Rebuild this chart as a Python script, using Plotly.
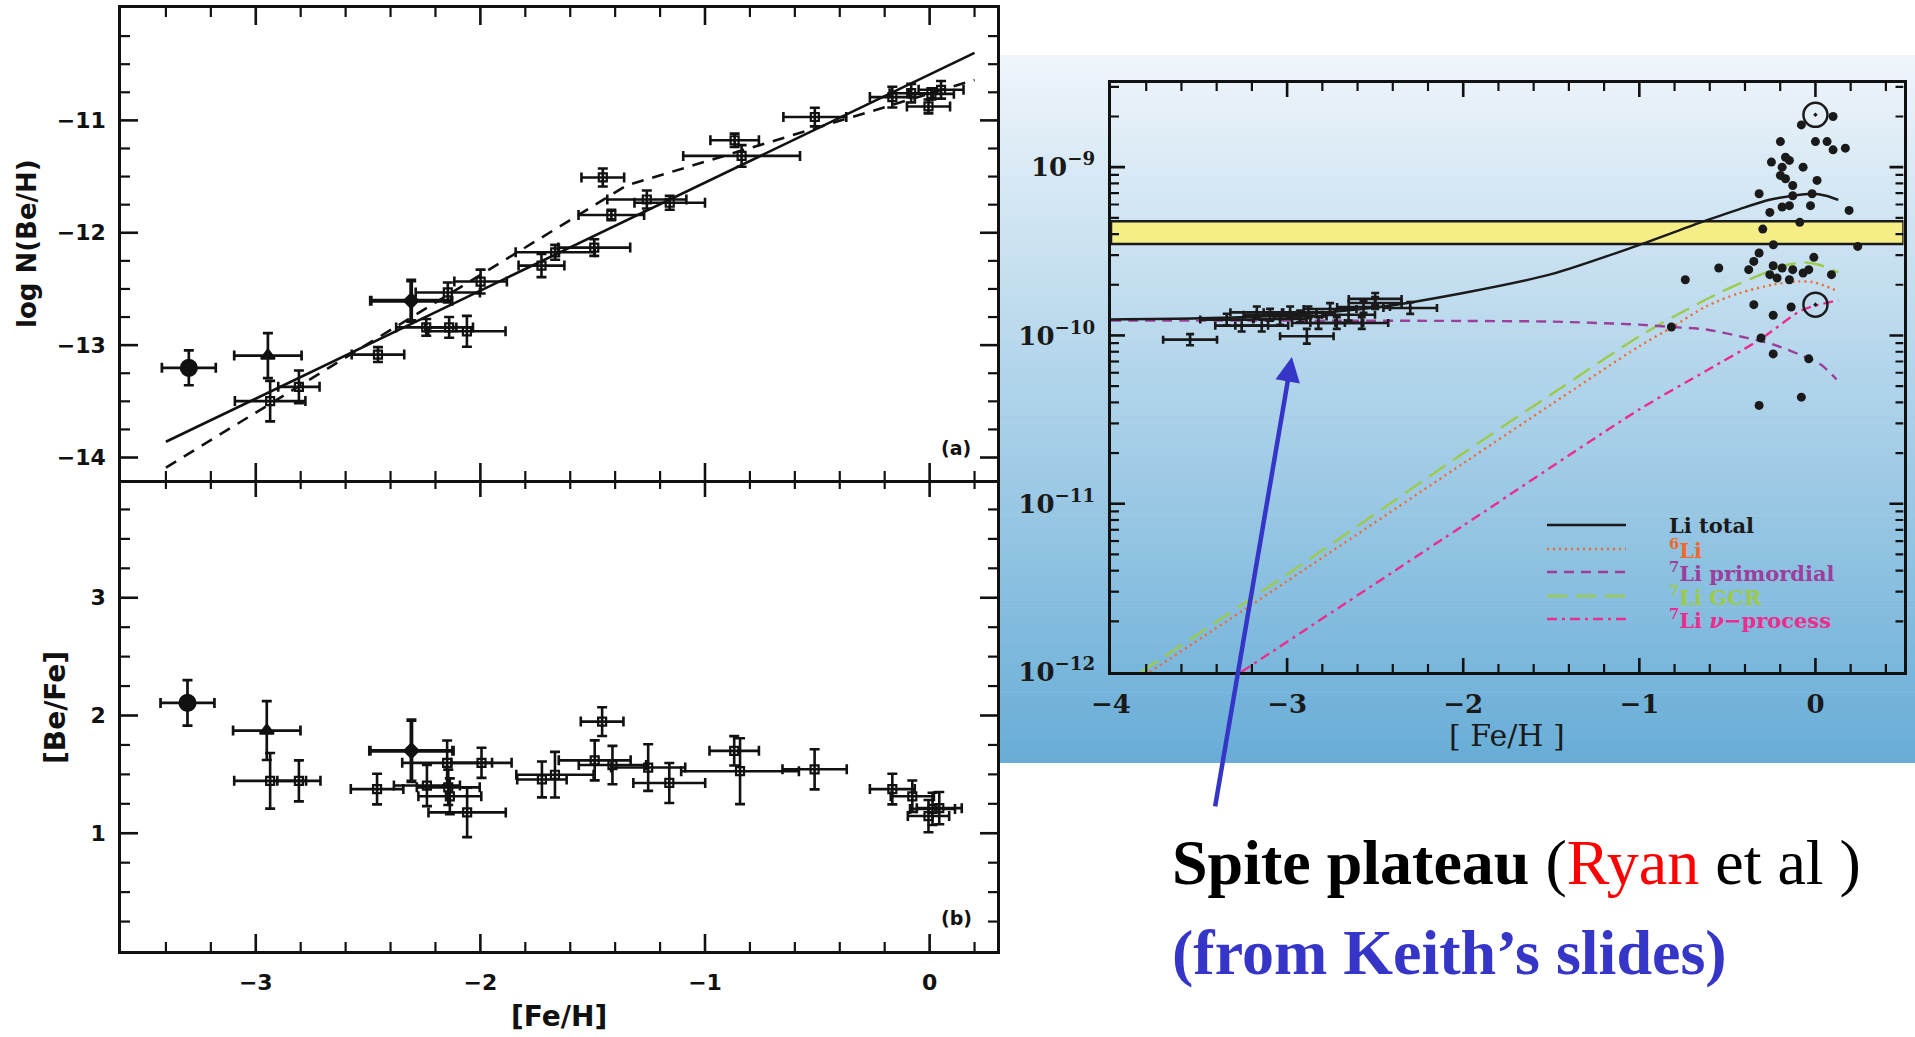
import numpy as np
import plotly.graph_objects as go

W, H = 1915, 1037


def px(x):
    return x / W


def py(y):
    return 1 - y / H


# ---------------- Panel (a): log N(Be/H) vs [Fe/H] ----------------
a_sq_feh = [-2.936, -2.808, -2.456, -2.241, -2.145, -2.139, -2.060, -1.999, -1.728, -1.667, -1.493, -1.455,
            -1.417, -1.259, -1.157, -0.868, -0.837, -0.511, -0.166, -0.082, -0.005, 0.008, 0.051]
a_sq_be = [-13.498, -13.371, -13.084, -12.842, -12.531, -12.842, -12.877, -12.434, -12.292, -12.174, -12.132,
           -11.508, -11.842, -11.704, -11.733, -11.177, -11.316, -10.970, -10.793, -10.758, -10.876, -10.764, -10.728]
a_sq_xerr = [0.157, 0.092, 0.117, 0.134, 0.143, 0.106, 0.172, 0.117, 0.102, 0.176, 0.160, 0.095,
             0.146, 0.176, 0.157, 0.108, 0.260, 0.140, 0.100, 0.096, 0.096, 0.100, 0.100]
a_sq_yerr = [0.180, 0.145, 0.066, 0.074, 0.089, 0.092, 0.137, 0.106, 0.103, 0.066, 0.074, 0.080,
             0.047, 0.080, 0.062, 0.059, 0.096, 0.083, 0.092, 0.083, 0.062, 0.050, 0.078]

a_circ = dict(feh=[-3.298], val=[-13.202], xerr=[0.12], yerr=[0.155])
a_tri = dict(feh=[-2.946], val=[-13.093], xerr=[0.15], yerr=[0.20])
a_bold = dict(feh=[-2.308], val=[-12.605], xerr=[0.18], yerr=[0.18])

fit_solid_feh = [-3.40, 0.20]
fit_solid_be = [-13.86, -10.40]
fit_dash_feh = [-3.40, -1.35, 0.20]
fit_dash_be = [-14.09, -11.58, -10.64]

# ---------------- Panel (b): [Be/Fe] vs [Fe/H] ----------------
b_sq_feh = [-2.936, -2.808, -2.460, -2.238, -2.148, -2.143, -2.136, -2.059, -1.995, -1.726, -1.668, -1.491,
            -1.458, -1.412, -1.253, -1.159, -0.870, -0.844, -0.512, -0.166, -0.077, -0.005, 0.013, 0.043]
b_sq_befe = [1.445, 1.445, 1.375, 1.405, 1.598, 1.390, 1.314, 1.177, 1.598, 1.457, 1.497, 1.619,
             1.948, 1.579, 1.558, 1.427, 1.700, 1.527, 1.543, 1.375, 1.314, 1.146, 1.207, 1.213]
b_sq_xerr = [0.160, 0.096, 0.117, 0.147, 0.200, 0.140, 0.140, 0.172, 0.134, 0.110, 0.172, 0.160,
             0.095, 0.150, 0.165, 0.160, 0.110, 0.262, 0.143, 0.100, 0.096, 0.092, 0.100, 0.100]
b_sq_yerr = [0.236, 0.174, 0.130, 0.175, 0.190, 0.150, 0.152, 0.210, 0.128, 0.152, 0.194, 0.170,
             0.122, 0.163, 0.198, 0.170, 0.125, 0.280, 0.170, 0.130, 0.134, 0.137, 0.137, 0.137]

b_circ = dict(feh=[-3.304], val=[2.107], xerr=[0.12], yerr=[0.193])
b_tri = dict(feh=[-2.951], val=[1.872], xerr=[0.15], yerr=[0.25])
b_bold = dict(feh=[-2.307], val=[1.700], xerr=[0.185], yerr=[0.26])

# ---------------- Right panel: Li/H vs [Fe/H] (log10 abundances) ----------------
tot_feh = [-4.0, -3.5, -3.0, -2.5, -2.0, -1.5, -1.0, -0.62, -0.43, -0.26, -0.13, -0.02, 0.06, 0.13]
tot_log = [-9.905, -9.898, -9.880, -9.835, -9.748, -9.636, -9.462, -9.317, -9.249, -9.194, -9.170, -9.158,
           -9.170, -9.195]

prim_feh = [-4.0, -3.0, -2.0, -1.5, -1.0, -0.82, -0.62, -0.43, -0.24, -0.09, 0.03, 0.12]
prim_log = [-9.912, -9.912, -9.914, -9.918, -9.936, -9.950, -9.965, -10.005, -10.054, -10.114, -10.173, -10.262]

gcr_feh = [-3.83, -3.0, -2.0, -1.5, -1.0, -0.79, -0.54, -0.37, -0.20, -0.07, 0.02, 0.13]
gcr_log = [-12.0, -11.42, -10.70, -10.35, -10.005, -9.88, -9.744, -9.665, -9.593, -9.566, -9.580, -9.625]

li6_feh = [-3.78, -3.0, -2.0, -1.5, -1.0, -0.82, -0.62, -0.43, -0.24, -0.10, -0.01, 0.13]
li6_log = [-12.0, -11.46, -10.76, -10.41, -10.064, -9.955, -9.827, -9.748, -9.698, -9.679, -9.684, -9.738]

nu_feh = [-3.26, -2.0, -1.0, -0.62, -0.31, -0.09, 0.0, 0.13]
nu_log = [-12.0, -11.13, -10.44, -10.21, -10.021, -9.857, -9.823, -9.791]

band_log = [-9.457, -9.321]  # lower / upper edge of the shaded band

halo_feh = [-3.551, -2.888, -3.172, -3.144, -3.258, -2.983, -2.879, -2.822, -2.718, -2.756,
            -2.576, -2.500, -2.566, -2.301, -3.040, -2.651, -2.926, -3.343, -3.097, -2.500]
halo_log = [-10.025, -10.005, -9.863, -9.942, -9.942, -9.863, -9.863, -9.926, -9.926, -9.843,
            -9.926, -9.783, -9.831, -9.837, -9.902, -9.877, -9.887, -9.906, -9.877, -9.807]
halo_xerr = [0.153, 0.152, 0.15, 0.15, 0.15, 0.15, 0.15, 0.15, 0.15, 0.15,
             0.15, 0.15, 0.15, 0.152, 0.15, 0.15, 0.15, 0.15, 0.15, 0.15]
halo_yerr = [0.033, 0.044, 0.035, 0.035, 0.035, 0.035, 0.035, 0.035, 0.035, 0.035,
             0.035, 0.035, 0.035, 0.035, 0.035, 0.035, 0.035, 0.035, 0.035, 0.035]

disk_feh = [0.10, -0.08, -0.199, 0.0, 0.066, 0.10, 0.17, -0.25, -0.17, -0.148, -0.189, -0.07, -0.199, -0.17,
            0.009, -0.129, -0.32, -0.129, -0.019, -0.189, -0.148, -0.028, -0.259, 0.191, -0.089, -0.299,
            -0.239, 0.24, -0.32, -0.35, -0.009, -0.549, -0.379, -0.24, -0.189, -0.129, -0.038, -0.07,
            -0.259, -0.218, -0.148, 0.091, -0.739, -0.35, -0.138, -0.24, -0.818, -0.309, -0.24, -0.038,
            -0.08, -0.32]
disk_log = [-8.699, -8.749, -8.848, -8.848, -8.848, -8.897, -8.887, -8.970, -8.941, -8.960, -9.000, -9.000,
            -9.049, -9.069, -9.079, -9.109, -9.158, -9.170, -9.158, -9.237, -9.229, -9.229, -9.269, -9.257,
            -9.328, -9.368, -9.461, -9.471, -9.510, -9.560, -9.536, -9.599, -9.609, -9.586, -9.599, -9.609,
            -9.609, -9.629, -9.639, -9.659, -9.669, -9.639, -9.669, -9.817, -9.831, -9.880, -9.950, -10.015,
            -10.110, -10.139, -10.367, -10.416]

sun_feh = [0.0, 0.0]
sun_log = [-8.689, -9.817]

INK = "#111111"
C_6LI = "#f2692e"
C_PRIM = "#9b3f9b"
C_GCR = "#9ccb4c"
C_NU = "#ec2d8e"
ARROW_BLUE = "#3535c8"


def lin(v):
    return np.power(10.0, np.asarray(v, dtype=float))


fig = go.Figure()


def err_points(xs, ys, xe, ye, xa, ya, symbol, size, thick, lw=2.2):
    fig.add_trace(go.Scatter(
        x=xs, y=ys, xaxis=xa, yaxis=ya, mode="markers",
        marker=dict(symbol=symbol, size=size, color=INK, line=dict(color=INK, width=lw)),
        error_x=dict(type="data", array=xe, thickness=thick, width=5, color=INK),
        error_y=dict(type="data", array=ye, thickness=thick, width=5, color=INK),
        showlegend=False, hoverinfo="skip"))


# panel (a)
fig.add_trace(go.Scatter(x=fit_solid_feh, y=fit_solid_be, xaxis="x", yaxis="y", mode="lines",
                         line=dict(color=INK, width=2.6), showlegend=False, hoverinfo="skip"))
fig.add_trace(go.Scatter(x=fit_dash_feh, y=fit_dash_be, xaxis="x", yaxis="y", mode="lines",
                         line=dict(color=INK, width=2.6, dash="12px,9px"), showlegend=False, hoverinfo="skip"))
err_points(a_sq_feh, a_sq_be, a_sq_xerr, a_sq_yerr, "x", "y", "square-open", 8, 2.6)
err_points(a_circ["feh"], a_circ["val"], a_circ["xerr"], a_circ["yerr"], "x", "y", "circle", 16, 2.7)
err_points(a_tri["feh"], a_tri["val"], a_tri["xerr"], a_tri["yerr"], "x", "y", "triangle-up", 12, 2.7)
err_points(a_bold["feh"], a_bold["val"], a_bold["xerr"], a_bold["yerr"], "x", "y", "diamond", 11, 3.8)

# panel (b)
err_points(b_sq_feh, b_sq_befe, b_sq_xerr, b_sq_yerr, "x2", "y2", "square-open", 8, 2.6)
err_points(b_circ["feh"], b_circ["val"], b_circ["xerr"], b_circ["yerr"], "x2", "y2", "circle", 16, 2.7)
err_points(b_tri["feh"], b_tri["val"], b_tri["xerr"], b_tri["yerr"], "x2", "y2", "triangle-up", 12, 2.7)
err_points(b_bold["feh"], b_bold["val"], b_bold["xerr"], b_bold["yerr"], "x2", "y2", "diamond", 11, 3.8)

# right panel: shaded band
bl, bh = lin(band_log)
fig.add_trace(go.Scatter(x=[-4.0, 0.5, 0.5, -4.0, -4.0], y=[bl, bl, bh, bh, bl], xaxis="x3", yaxis="y3",
                         mode="lines", fill="toself", fillcolor="#f5ee86",
                         line=dict(color="#1a1a1a", width=2.5), showlegend=False, hoverinfo="skip"))

# model curves
curve_specs = [
    (gcr_feh, gcr_log, C_GCR, "20px,9px"),
    (li6_feh, li6_log, C_6LI, "2px,4px"),
    (nu_feh, nu_log, C_NU, "10px,5px,3px,5px"),
    (prim_feh, prim_log, C_PRIM, "10px,7px"),
    (tot_feh, tot_log, "#1a1a1a", "solid"),
]
for xs, ys, col, dash in curve_specs:
    fig.add_trace(go.Scatter(x=xs, y=lin(ys), xaxis="x3", yaxis="y3", mode="lines",
                             line=dict(color=col, width=2.4, dash=dash, shape="spline", smoothing=0.8),
                             showlegend=False, hoverinfo="skip"))

# halo stars with error bars
hy = lin(halo_log)
fig.add_trace(go.Scatter(
    x=halo_feh, y=hy, xaxis="x3", yaxis="y3", mode="markers",
    marker=dict(symbol="circle", size=4, color="#1a1a1a"),
    error_x=dict(type="data", array=halo_xerr, thickness=2.6, width=4, color="#1a1a1a"),
    error_y=dict(type="data", symmetric=False,
                 array=lin(np.add(halo_log, halo_yerr)) - hy,
                 arrayminus=hy - lin(np.subtract(halo_log, halo_yerr)),
                 thickness=2.6, width=4, color="#1a1a1a"),
    showlegend=False, hoverinfo="skip"))

# disk stars and solar-system values
fig.add_trace(go.Scatter(x=disk_feh, y=lin(disk_log), xaxis="x3", yaxis="y3", mode="markers",
                         marker=dict(symbol="circle", size=9, color="#1a1a1a"),
                         showlegend=False, hoverinfo="skip"))
fig.add_trace(go.Scatter(x=sun_feh, y=lin(sun_log), xaxis="x3", yaxis="y3", mode="markers",
                         marker=dict(symbol="circle-open-dot", size=24, color="#1a1a1a",
                                     line=dict(width=2.5, color="#1a1a1a")),
                         showlegend=False, hoverinfo="skip"))

# ---------------- axes (frames + tick labels) ----------------
L_FONT = dict(family="DejaVu Sans", size=22, color=INK, weight="bold")
R_FONT = dict(family="DejaVu Serif", size=26, color="#1a1a1a", weight="bold")


def axis(domain, anchor, rng, tickvals, ticktext, font, standoff, show_labels=True, log=False, mirror=True):
    d = dict(domain=domain, anchor=anchor, range=rng, tickmode="array", tickvals=tickvals,
             ticktext=ticktext, showticklabels=show_labels, ticks="",
             mirror=mirror, showline=True, linewidth=2.5, linecolor=INK,
             showgrid=False, zeroline=False, tickfont=font, automargin=False, ticklabelstandoff=standoff)
    if log:
        d["type"] = "log"
    return d


feh_ticks = [-3, -2, -1, 0]
feh_text = ["−3", "−2", "−1", "0"]
be_ticks = [-14, -13, -12, -11]
be_text = ["−14", "−13", "−12", "−11"]
befe_ticks = [1, 2, 3]
befe_text = ["1", "2", "3"]
li_feh_ticks = [-4, -3, -2, -1, 0]
li_feh_text = ["−4", "−3", "−2", "−1", "0"]
li_ticks = [1e-12, 1e-11, 1e-10, 1e-9]
li_text = ["10<sup>−12</sup>", "10<sup>−11</sup>", "10<sup>−10</sup>", "10<sup>−9</sup>"]

# pixel boxes of the three frames: (left, right, top, bottom)
BOX_A = (121, 997, 8, 480)
BOX_B = (121, 997, 480, 951)
BOX_C = (1111, 1903.5, 83, 672)
RANGE_FEH = [-3.6, 0.3]
RANGE_BE = [-14.2, -10.0]
RANGE_BEFE = [0.0, 4.0]
RANGE_LI_FEH = [-4.0, 0.5]
RANGE_LI_LOG = [-12.0, -8.5]


def xdom(b):
    return [px(b[0]), px(b[1])]


def ydom(b):
    return [py(b[3]), py(b[2])]


fig.update_layout(
    xaxis=axis(xdom(BOX_A), "y", RANGE_FEH, feh_ticks, feh_text, L_FONT, 8, show_labels=False),
    yaxis=axis(ydom(BOX_A), "x", RANGE_BE, be_ticks, be_text, L_FONT, 8),
    xaxis2=axis(xdom(BOX_B), "y2", RANGE_FEH, feh_ticks, feh_text, L_FONT, 10, mirror=False),
    yaxis2=axis(ydom(BOX_B), "x2", RANGE_BEFE, befe_ticks, befe_text, L_FONT, 8),
    xaxis3=axis(xdom(BOX_C), "y3", RANGE_LI_FEH, li_feh_ticks, li_feh_text, R_FONT, 7),
    yaxis3=axis(ydom(BOX_C), "x3", RANGE_LI_LOG, li_ticks, li_text, R_FONT, 8, log=True),
)


# ---------------- tick marks on all four sides of each frame ----------------
def tick_marks(xa, ya, xr, yr, box, xvals, yvals, length, width, ylog=False):
    wpx, hpx = box[1] - box[0], box[3] - box[2]
    dy = length / hpx * (yr[1] - yr[0])
    dx = length / wpx * (xr[1] - xr[0])
    xs, ys = [], []
    for v in xvals:
        xs += [v, v, None, v, v, None]
        ys += [yr[0], yr[0] + dy, None, yr[1], yr[1] - dy, None]
    for v in yvals:
        xs += [xr[0], xr[0] + dx, None, xr[1], xr[1] - dx, None]
        ys += [v, v, None, v, v, None]
    if ylog:
        ys = [None if y is None else 10.0 ** y for y in ys]
    fig.add_trace(go.Scatter(x=xs, y=ys, xaxis=xa, yaxis=ya, mode="lines",
                             line=dict(color=INK, width=width), showlegend=False, hoverinfo="skip"))


def steps(lo, hi, step):
    n = int(round((hi - lo) / step))
    return [round(lo + step * i, 4) for i in range(n + 1)]


def off_major(vals):
    return [v for v in vals if abs(v - round(v)) > 1e-6]


feh_minor = off_major(steps(-3.4, 0.2, 0.2))
be_minor = off_major(steps(-14.0, -10.25, 0.25))
befe_minor = off_major(steps(0.25, 3.75, 0.25))
li_feh_minor = off_major(steps(-3.8, 0.4, 0.2))
li_minor = [np.log10(k) + e for e in (-12, -11, -10, -9) for k in range(2, 10) if np.log10(k) + e < -8.5]

for xa, ya, yr, box, ymaj, ymin in (("x", "y", RANGE_BE, BOX_A, be_ticks, be_minor),
                                    ("x2", "y2", RANGE_BEFE, BOX_B, befe_ticks, befe_minor)):
    tick_marks(xa, ya, RANGE_FEH, yr, box, feh_ticks, ymaj, 17, 2.6)
    tick_marks(xa, ya, RANGE_FEH, yr, box, feh_minor, ymin, 9, 2.2)

tick_marks("x3", "y3", RANGE_LI_FEH, RANGE_LI_LOG, BOX_C, [-3, -2, -1, 0], [-11, -10, -9], 14, 2.6, ylog=True)
tick_marks("x3", "y3", RANGE_LI_FEH, RANGE_LI_LOG, BOX_C, li_feh_minor, li_minor, 8, 2.2, ylog=True)

# ---------------- background panel behind the Li plot ----------------
shapes = []
top_rgb = np.array([239, 245, 251])
bot_rgb = np.array([104, 173, 215])
n_bands = 100
y0, y1 = 55.0, 763.0
for i in range(n_bands):
    t = (i + 0.5) / n_bands
    c = np.round(top_rgb + (bot_rgb - top_rgb) * t).astype(int)
    ya = y0 + (y1 - y0) * i / n_bands
    yb = y0 + (y1 - y0) * (i + 1) / n_bands + 0.6
    shapes.append(dict(type="rect", xref="paper", yref="paper", x0=px(999), x1=1.0,
                       y0=py(min(yb, y1)), y1=py(ya), line=dict(width=0),
                       fillcolor=f"rgb({c[0]},{c[1]},{c[2]})", layer="below"))

# legend of the Li plot
leg_rows = [
    ("Li total", "#1a1a1a", "solid"),
    ("<sup>6</sup>Li", C_6LI, "2px,4px"),
    ("<sup>7</sup>Li primordial", C_PRIM, "10px,7px"),
    ("<sup>7</sup>Li GCR", C_GCR, "20px,9px"),
    ("<sup>7</sup>Li <i>ν</i>−process", C_NU, "10px,5px,3px,5px"),
]
leg_y = [525, 549, 572, 596, 619]
annotations = []
for (label, col, dash), yy in zip(leg_rows, leg_y):
    shapes.append(dict(type="line", xref="paper", yref="paper", x0=px(1547), x1=px(1626),
                       y0=py(yy), y1=py(yy), line=dict(color=col, width=2.6, dash=dash)))
    annotations.append(dict(xref="paper", yref="paper", x=px(1667), y=py(yy), xanchor="left",
                            yanchor="middle", text=label, showarrow=False,
                            font=dict(family="DejaVu Serif", size=21, color=col, weight="bold")))

# axis titles and panel tags
TITLE_FONT = dict(family="DejaVu Sans", size=26, color=INK, weight="bold")
annotations += [
    dict(xref="paper", yref="paper", x=px(27), y=py(244), text="log N(Be/H)", textangle=-90,
         showarrow=False, font=TITLE_FONT, xanchor="center", yanchor="middle"),
    dict(xref="paper", yref="paper", x=px(55), y=py(708), text="[Be/Fe]", textangle=-90,
         showarrow=False, font=dict(TITLE_FONT, size=28), xanchor="center", yanchor="middle"),
    dict(xref="paper", yref="paper", x=px(559), y=py(1016), text="[Fe/H]",
         showarrow=False, font=dict(TITLE_FONT, size=28), xanchor="center", yanchor="middle"),
    dict(xref="paper", yref="paper", x=px(956), y=py(448), text="(a)", xanchor="center", yanchor="middle",
         showarrow=False, font=dict(family="DejaVu Sans", size=19, color=INK, weight="bold")),
    dict(xref="paper", yref="paper", x=px(956), y=py(918), text="(b)", xanchor="center", yanchor="middle",
         showarrow=False, font=dict(family="DejaVu Sans", size=19, color=INK, weight="bold")),
    dict(xref="paper", yref="paper", x=px(1507), y=py(735), text="[ Fe/H ]", xanchor="center",
         yanchor="middle", showarrow=False,
         font=dict(family="DejaVu Serif", size=30, color="#1a1a1a")),
    # arrow pointing at the plateau
    dict(xref="x3", yref="y3", x=-2.973, y=-10.128, ax=-77, ay=451, text="", showarrow=True,
         arrowhead=2, arrowsize=1.1, arrowwidth=4.5, arrowcolor=ARROW_BLUE, standoff=0),
    dict(xref="paper", yref="paper", x=px(1170), y=py(862), xanchor="left", yanchor="middle",
         text="<b>Spite plateau</b> (<span style='color:#ff0000'>Ryan</span> et al )",
         showarrow=False, font=dict(family="Liberation Serif", size=64, color="#000000")),
    dict(xref="paper", yref="paper", x=px(1170), y=py(952), xanchor="left", yanchor="middle",
         text="<b>(from Keith’s slides)</b>",
         showarrow=False, font=dict(family="Liberation Serif", size=64, color=ARROW_BLUE)),
]

fig.update_layout(
    template="none",
    width=W, height=H, autosize=False,
    margin=dict(l=0, r=0, t=0, b=0, pad=0, autoexpand=False),
    paper_bgcolor="white", plot_bgcolor="rgba(0,0,0,0)",
    shapes=shapes, annotations=annotations, showlegend=False,
)

fig.write_html("out.html", include_plotlyjs=True, config={"displayModeBar": False},
               post_script="document.body.style.margin='0px';document.body.style.overflow='hidden';")
